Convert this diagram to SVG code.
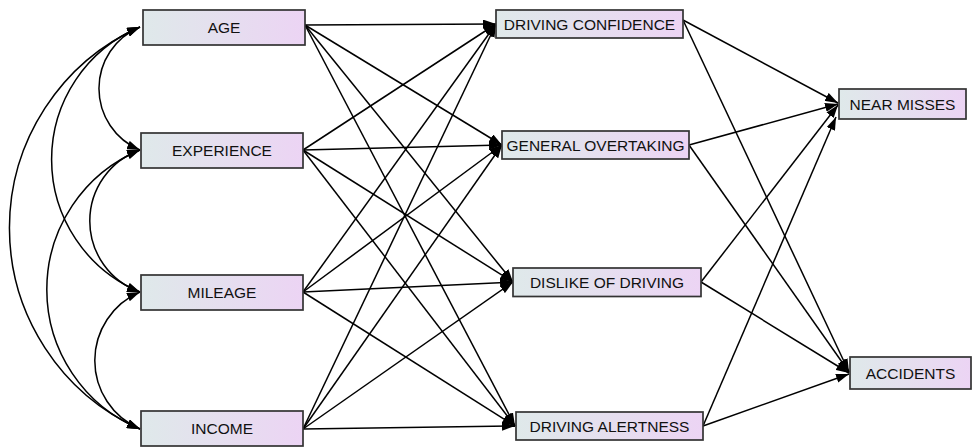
<svg xmlns="http://www.w3.org/2000/svg" width="973" height="447" viewBox="0 0 973 447">
<defs>
<linearGradient id="g" x1="0" y1="0" x2="1" y2="0">
<stop offset="0" stop-color="#dfe9ea"/>
<stop offset="1" stop-color="#ecd4f4"/>
</linearGradient>
<marker id="ah" viewBox="0 0 13 9" refX="13" refY="4.5" markerWidth="13" markerHeight="9" markerUnits="userSpaceOnUse" orient="auto-start-reverse">
<path d="M0,0 L13,4.5 L0,9 z" fill="#000"/>
</marker>
</defs>
<style>
rect.box{fill:url(#g);stroke:#333;stroke-width:1.7}
text{font-family:"Liberation Sans",Arial,sans-serif;font-size:15.5px;fill:#111;text-anchor:middle}
#connectors path,#connectors line{stroke:#000;stroke-width:1.5;fill:none;marker-end:url(#ah)}
#connectors path.cov{marker-start:url(#ah)}
</style>
<g id="connectors">
<path class="cov" d="M140,27 A66.6,66.6 0 0 0 140,150"/>
<path class="cov" d="M140,150 A75.3,75.3 0 0 0 140,292"/>
<path class="cov" d="M140,292 A74.5,74.5 0 0 0 140,429"/>
<path class="cov" d="M140,27 A143.5,143.5 0 0 0 140,292"/>
<path class="cov" d="M140,150 A151,151 0 0 0 140,429"/>
<path class="cov" d="M140,27 A220,220 0 0 0 140,429"/>
<line x1="305" y1="25" x2="496" y2="24"/>
<line x1="305" y1="25" x2="502" y2="145"/>
<line x1="305" y1="25" x2="513" y2="282"/>
<line x1="305" y1="25" x2="515" y2="426"/>
<line x1="303" y1="150" x2="496" y2="24"/>
<line x1="303" y1="150" x2="502" y2="145"/>
<line x1="303" y1="150" x2="513" y2="282"/>
<line x1="303" y1="150" x2="515" y2="426"/>
<line x1="303" y1="292" x2="496" y2="24"/>
<line x1="303" y1="292" x2="502" y2="145"/>
<line x1="303" y1="292" x2="513" y2="282"/>
<line x1="303" y1="292" x2="515" y2="426"/>
<line x1="303" y1="429" x2="496" y2="24"/>
<line x1="303" y1="429" x2="502" y2="145"/>
<line x1="303" y1="429" x2="513" y2="282"/>
<line x1="303" y1="429" x2="515" y2="426"/>
<line x1="683" y1="20" x2="838" y2="103"/>
<line x1="683" y1="20" x2="849" y2="372"/>
<line x1="689" y1="145" x2="838" y2="104"/>
<line x1="689" y1="145" x2="849" y2="372"/>
<line x1="701" y1="282" x2="838" y2="105"/>
<line x1="701" y1="282" x2="849" y2="373"/>
<line x1="703" y1="426" x2="836" y2="117"/>
<line x1="703" y1="426" x2="849" y2="374"/>
</g>
<g id="age"><rect class="box" x="143" y="10" width="162" height="35"/><text x="224" y="33">AGE</text></g>
<g id="experience"><rect class="box" x="141" y="133" width="162" height="35"/><text x="222" y="156">EXPERIENCE</text></g>
<g id="mileage"><rect class="box" x="141" y="275" width="162" height="35"/><text x="222" y="298">MILEAGE</text></g>
<g id="income"><rect class="box" x="141" y="411" width="162" height="35"/><text x="222" y="434">INCOME</text></g>
<g id="driving-confidence"><rect class="box" x="496" y="10" width="187" height="28"/><text x="589.5" y="29.5">DRIVING CONFIDENCE</text></g>
<g id="general-overtaking"><rect class="box" x="502" y="131" width="187" height="28"/><text x="595.5" y="150.5">GENERAL OVERTAKING</text></g>
<g id="dislike-of-driving"><rect class="box" x="513" y="268" width="188" height="28.5"/><text x="607" y="288">DISLIKE OF DRIVING</text></g>
<g id="driving-alertness"><rect class="box" x="516" y="412" width="187" height="28"/><text x="609.5" y="431.5">DRIVING ALERTNESS</text></g>
<g id="near-misses"><rect class="box" x="839" y="89" width="127" height="30"/><text x="902.5" y="109.5">NEAR MISSES</text></g>
<g id="accidents"><rect class="box" x="850" y="357" width="121" height="32"/><text x="910.5" y="378.5">ACCIDENTS</text></g>
</svg>
